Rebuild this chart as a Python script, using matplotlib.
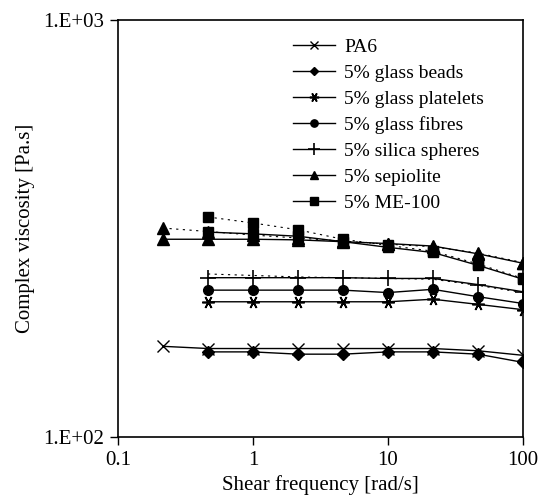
import matplotlib.pyplot as plt
from matplotlib.ticker import FixedLocator, FixedFormatter, NullLocator

plt.rcParams['font.family'] = ['Liberation Serif', 'DejaVu Serif']
plt.rcParams['font.size'] = 15

# shear frequency sweep [rad/s]
freq = [0.215, 0.464, 1, 2.15, 4.64, 10, 21.5, 46.4, 100]
freq_short = freq[1:]

# complex viscosity [Pa.s]
pa6 = [165, 163, 163, 163, 163, 163, 163, 161, 157]
glass_beads = [160, 160, 158, 158, 160, 160, 158, 151]
glass_platelets = [211, 211, 211, 211, 211, 214, 208, 202]
glass_fibres = [225, 225, 225, 225, 222, 226, 217, 209]
silica_spheres = [241, 241, 241, 241, 240, 240, 232, 223]
sepiolite = [298, 298, 298, 297, 294, 291, 287, 275, 261]
me100 = [310, 307, 303, 294, 285, 277, 258, 239]

# repeat runs (dotted)
sepiolite_b = [317, 311, 305, 300, 295, 290, 286, 276, 262]
me100_b = [337, 326, 314, 298, 288, 279, 260, 240]
silica_b = [246, 244, 242, 241, 240, 239, 231, 222]

fig = plt.figure(figsize=(5.38, 4.97), dpi=100)
ax = fig.add_axes([0.2193, 0.1207, 0.7528, 0.8391])

lw = 1.0
dot = (0, (2, 4))
ax.plot(freq, sepiolite_b, color='k', lw=0.8, ls=dot, marker='^', ms=8)
ax.plot(freq_short, me100_b, color='k', lw=0.8, ls=dot, marker='s', ms=7)
ax.plot(freq_short, silica_b, color='k', lw=0.8, ls=dot)

ax.plot(freq, pa6, color='k', lw=lw, marker='x', ms=8, mew=1.0, label='PA6')
ax.plot(freq_short, glass_beads, color='k', lw=lw, marker='D', ms=6, label='5% glass beads')
ax.plot(freq_short, glass_platelets, color='k', lw=lw, marker=(6, 2, 90), ms=9, mew=1.2,
        label='5% glass platelets')
ax.plot(freq_short, glass_fibres, color='k', lw=lw, marker='o', ms=7, label='5% glass fibres')
ax.plot(freq_short, silica_spheres, color='k', lw=lw, marker='+', ms=11, mew=1.2,
        label='5% silica spheres')
ax.plot(freq, sepiolite, color='k', lw=lw, marker='^', ms=8, label='5% sepiolite')
ax.plot(freq_short, me100, color='k', lw=lw, marker='s', ms=7, label='5% ME-100')

ax.set_xscale('log')
ax.set_yscale('log')
ax.set_xlim(0.1, 100)
ax.set_ylim(100, 1000)

ax.xaxis.set_major_locator(FixedLocator([0.1, 1, 10, 100]))
ax.xaxis.set_major_formatter(FixedFormatter(['0.1', '1', '10', '100']))
ax.yaxis.set_major_locator(FixedLocator([100, 1000]))
ax.yaxis.set_major_formatter(FixedFormatter(['1.E+02', '1.E+03']))
ax.xaxis.set_minor_locator(NullLocator())
ax.yaxis.set_minor_locator(NullLocator())
ax.tick_params(direction='out', length=6, width=1.0, pad=4, labelsize=15)

for s in ax.spines.values():
    s.set_linewidth(1.2)

ax.set_xlabel('Shear frequency [rad/s]', fontsize=15, labelpad=4)
ax.set_ylabel('Complex viscosity [Pa.s]', fontsize=15, labelpad=6)

ax.legend(loc='upper left', bbox_to_anchor=(0.432, 0.956), frameon=False,
          borderpad=0, borderaxespad=0, handlelength=2.15, handletextpad=0.5,
          labelspacing=0.43, markerscale=0.75, fontsize=14)

fig.savefig('out.png', dpi=100)
